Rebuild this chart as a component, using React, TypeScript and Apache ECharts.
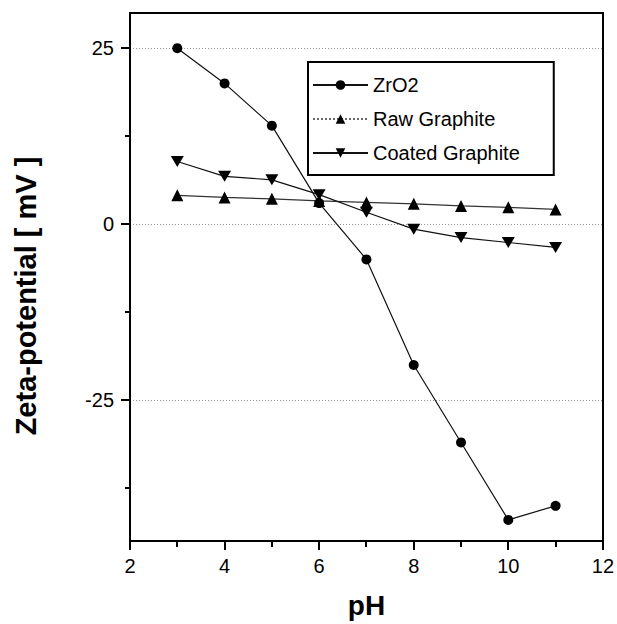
import React, { useEffect, useRef } from "react";
import * as echarts from "echarts";

const phValues = [3, 4, 5, 6, 7, 8, 9, 10, 11];
const zro2 = [25, 20, 14, 3, -5, -20, -31, -42, -40];
const rawGraphite = [4.1, 3.8, 3.6, 3.3, 3.1, 2.9, 2.6, 2.4, 2.1];
const coatedGraphite = [8.9, 6.8, 6.3, 4.2, 1.7, -0.7, -1.9, -2.6, -3.3];
const xMajorTicks = [2, 4, 6, 8, 10, 12];
const xMinorTicks = [3, 5, 7, 9, 11];
const yMajorTicks = [25, 0, -25];
const yMinorTicks = [12.5, -12.5, -37.5];
const gridValues = [25, 0, -25];
const X_MIN = 2;
const X_MAX = 12;
const Y_MIN = -45;
const Y_MAX = 30;

const FONT = "'Liberation Sans', Arial, Helvetica, sans-serif";
const downTri = "path://M0,0L2,0L1,1.732Z";

export default function App() {
  const ref = useRef<HTMLDivElement>(null);
  useEffect(() => {
    document.body.style.margin = "0";
    const chart = echarts.init(ref.current!, null, { renderer: "svg" });
    const pair = (ys: number[]) => phValues.map((x, i) => [x, ys[i]]);

    const renderFrame = (_params: any, api: any) => {
      const c = (x: number, y: number) => {
        const p = api.coord([x, y]);
        return [Math.round(p[0]), Math.round(p[1])];
      };
      const ink = { stroke: "#000", lineWidth: 2 };
      const children: any[] = [];
      gridValues.forEach((v) => {
        const a = c(X_MIN, v);
        const b = c(X_MAX, v);
        children.push({
          type: "line",
          shape: { x1: a[0], y1: a[1] + 0.5, x2: b[0], y2: b[1] + 0.5 },
          style: { stroke: "#9a9a9a", lineWidth: 1, lineDash: [1, 2] },
        });
      });
      xMajorTicks.forEach((v) => {
        const a = c(v, Y_MIN);
        children.push({ type: "line", shape: { x1: a[0], y1: a[1], x2: a[0], y2: a[1] + 9 }, style: ink });
      });
      xMinorTicks.forEach((v) => {
        const a = c(v, Y_MIN);
        children.push({ type: "line", shape: { x1: a[0], y1: a[1], x2: a[0], y2: a[1] + 6 }, style: ink });
      });
      yMajorTicks.forEach((v) => {
        const a = c(X_MIN, v);
        children.push({ type: "line", shape: { x1: a[0], y1: a[1], x2: a[0] - 9, y2: a[1] }, style: ink });
      });
      yMinorTicks.forEach((v) => {
        const a = c(X_MIN, v);
        children.push({ type: "line", shape: { x1: a[0], y1: a[1], x2: a[0] - 5, y2: a[1] }, style: ink });
      });
      const tl = c(X_MIN, Y_MAX);
      const br = c(X_MAX, Y_MIN);
      children.push({
        type: "rect",
        shape: { x: tl[0], y: tl[1], width: br[0] - tl[0], height: br[1] - tl[1] },
        style: { fill: "none", stroke: "#000", lineWidth: 2 },
      });
      return { type: "group", children };
    };

    chart.setOption({
      animation: false,
      backgroundColor: "#fff",
      grid: { left: 130, right: 14, top: 13, bottom: 79 },
      legend: {
        orient: "vertical",
        left: 308,
        top: 62,
        padding: [13, 34, 12, 4],
        itemWidth: 55,
        itemHeight: 12,
        itemGap: 14,
        borderColor: "#000",
        borderWidth: 2,
        textStyle: { fontSize: 20, color: "#000", fontFamily: FONT },
        data: [
          { name: "ZrO2" },
          { name: "Raw Graphite", lineStyle: { type: "dotted", color: "#666" } },
          { name: "Coated Graphite" },
        ],
      },
      xAxis: {
        type: "value",
        min: X_MIN,
        max: X_MAX,
        interval: 2,
        name: "pH",
        nameLocation: "middle",
        nameGap: 50,
        nameTextStyle: { fontSize: 28, fontWeight: "bold", color: "#000", fontFamily: FONT },
        axisLine: { show: false, onZero: false },
        axisTick: { show: false },
        axisLabel: { fontSize: 20, color: "#000", margin: 15, fontFamily: FONT },
        splitLine: { show: false },
      },
      yAxis: {
        type: "value",
        min: Y_MIN,
        max: Y_MAX,
        name: "Zeta-potential [ mV ]",
        nameLocation: "middle",
        nameGap: 90,
        nameRotate: 90,
        nameTextStyle: {
          fontSize: 29,
          fontWeight: "bold",
          color: "#000",
          fontFamily: FONT,
          padding: [0, 38, 0, 0],
        },
        axisLine: { show: false, onZero: false },
        axisTick: { show: false },
        axisLabel: { fontSize: 20, color: "#000", margin: 16, customValues: yMajorTicks, fontFamily: FONT },
        splitLine: { show: false },
      },
      series: [
        {
          name: "frame",
          type: "custom",
          silent: true,
          clip: false,
          z: 1,
          data: [[X_MIN, Y_MIN]],
          renderItem: renderFrame,
        },
        {
          name: "ZrO2",
          type: "line",
          data: pair(zro2),
          symbol: "circle",
          symbolSize: 10,
          itemStyle: { color: "#000" },
          lineStyle: { color: "#111", width: 1.2 },
          z: 3,
        },
        {
          name: "Raw Graphite",
          type: "line",
          data: pair(rawGraphite),
          symbol: "triangle",
          symbolSize: 12,
          itemStyle: { color: "#000" },
          lineStyle: { color: "#333", width: 1.2 },
          z: 3,
        },
        {
          name: "Coated Graphite",
          type: "line",
          data: pair(coatedGraphite),
          symbol: downTri,
          symbolSize: [13, 11],
          itemStyle: { color: "#000" },
          lineStyle: { color: "#111", width: 1.2 },
          z: 3,
        },
      ],
    });
    return () => chart.dispose();
  }, []);
  return <div ref={ref} style={{ width: 617, height: 624 }} />;
}
